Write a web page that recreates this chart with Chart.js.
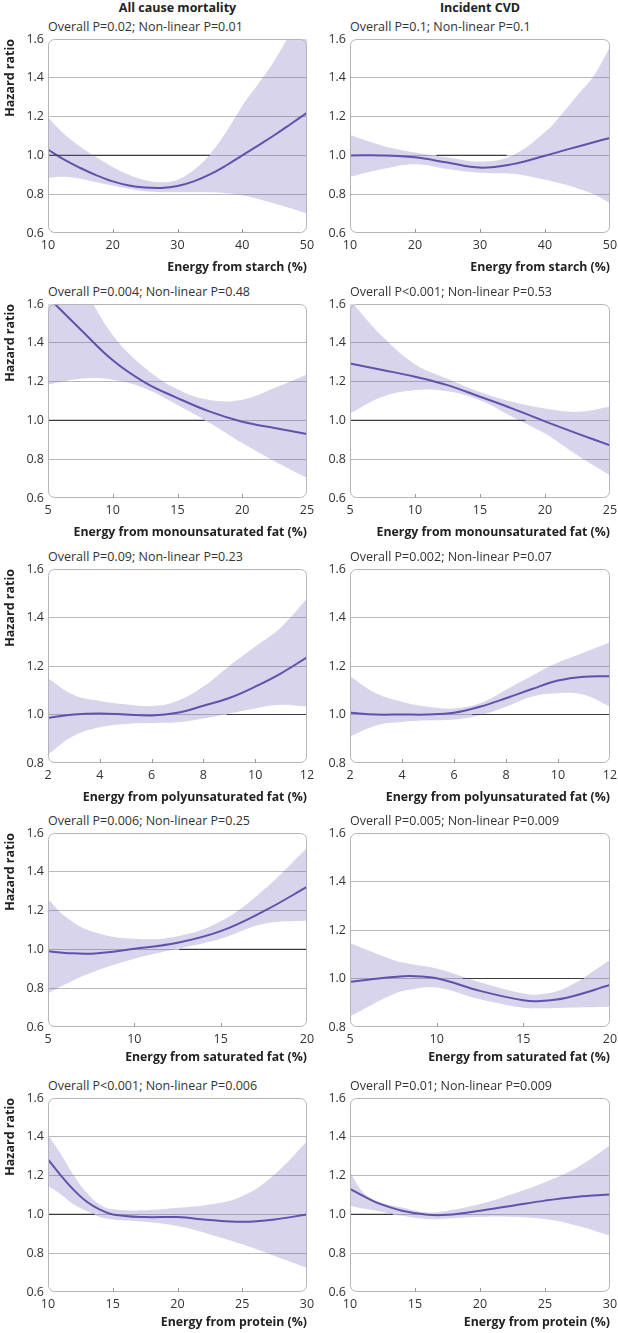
<!DOCTYPE html>
<html>
<head>
<meta charset="utf-8">
<script src="https://cdn.jsdelivr.net/npm/chart.js@4.4.1/dist/chart.umd.min.js"></script>
<style>
    body { margin: 0; background: #fff; width: 618px; height: 1333px; position: relative; overflow: hidden; font-family: 'Open Sans', sans-serif; color: #333; }
    .panel { position: absolute; }
    .coltitle { position: absolute; top: 0; font-weight: bold; font-size: 12.5px; line-height: 16px; color: #222; transform: translateX(-50%); white-space: nowrap; }
    .sub { position: absolute; font-size: 12.5px; line-height: 16px; white-space: nowrap; color: #333; }
</style>
</head>
<body>
<script>
// ── Data ──
var colTitles = ['All cause mortality', 'Incident CVD'];
var xTitles = ['Energy from starch (%)', 'Energy from monounsaturated fat (%)', 'Energy from polyunsaturated fat (%)', 'Energy from saturated fat (%)', 'Energy from protein (%)'];
var subtitles = [
    'Overall P=0.02; Non-linear P=0.01', 'Overall P=0.1; Non-linear P=0.1',
    'Overall P=0.004; Non-linear P=0.48', 'Overall P<0.001; Non-linear P=0.53',
    'Overall P=0.09; Non-linear P=0.23', 'Overall P=0.002; Non-linear P=0.07',
    'Overall P=0.006; Non-linear P=0.25', 'Overall P=0.005; Non-linear P=0.009',
    'Overall P<0.001; Non-linear P=0.006', 'Overall P=0.01; Non-linear P=0.009'
];
var xMin = [10, 5, 2, 5, 10];
var xMax = [50, 25, 12, 20, 30];
var xStep = [10, 5, 2, 5, 5];
var yMin = [0.6, 0.6, 0.6, 0.6, 0.8, 0.8, 0.6, 0.8, 0.6, 0.6];
var yMax = 1.6;
var yStep = 0.2;
// dark part of the HR=1 reference line
var refStart = [10, 23.3, 5, 5, 8.9, 6.7, 12.6, 11.5, 10, 10];
var refEnd = [35, 34.1, 17.1, 18.5, 12, 12, 20, 18.5, 13.6, 13.3];

// starch
var mortStarchX = [10, 12.5, 15, 17.5, 20, 22.5, 25, 27.5, 30, 32.5, 35, 37.5, 40, 42.5, 45, 47.5, 50];
var mortStarchHR = [1.03, 0.978, 0.935, 0.897, 0.866, 0.845, 0.834, 0.832, 0.842, 0.866, 0.902, 0.948, 1.0, 1.052, 1.105, 1.162, 1.22];
var mortStarchHi = [1.195, 1.11, 1.045, 0.99, 0.94, 0.9, 0.872, 0.862, 0.875, 0.925, 1.005, 1.12, 1.255, 1.37, 1.49, 1.64, 1.82];
var mortStarchLo = [0.885, 0.89, 0.88, 0.862, 0.845, 0.828, 0.815, 0.81, 0.81, 0.81, 0.81, 0.805, 0.795, 0.775, 0.752, 0.727, 0.70];
var cvdStarchX = [10, 15, 20, 25, 30, 35, 40, 42.5, 45, 47.5, 50];
var cvdStarchHR = [1.0, 1.0, 0.99, 0.963, 0.937, 0.955, 0.998, 1.022, 1.045, 1.068, 1.09];
var cvdStarchHi = [1.105, 1.05, 1.015, 0.99, 0.968, 1.0, 1.12, 1.21, 1.31, 1.41, 1.56];
var cvdStarchLo = [0.89, 0.93, 0.955, 0.93, 0.91, 0.905, 0.875, 0.855, 0.83, 0.8, 0.755];
// monounsaturated fat
var mortMufaX = [5, 7.5, 10, 12.5, 15, 17.5, 20, 22.5, 25];
var mortMufaHR = [1.635, 1.47, 1.31, 1.195, 1.115, 1.045, 0.993, 0.961, 0.93];
var mortMufaHi = [2.0, 1.72, 1.44, 1.27, 1.16, 1.105, 1.107, 1.167, 1.236];
var mortMufaLo = [1.185, 1.215, 1.21, 1.165, 1.08, 0.987, 0.883, 0.789, 0.703];
var cvdMufaX = [5, 7.5, 10, 12.5, 15, 17.5, 20, 22.5, 25];
var cvdMufaHR = [1.294, 1.26, 1.225, 1.182, 1.122, 1.061, 0.995, 0.932, 0.871];
var cvdMufaHi = [1.62, 1.432, 1.29, 1.215, 1.147, 1.096, 1.061, 1.044, 1.07];
var cvdMufaLo = [1.035, 1.122, 1.156, 1.15, 1.104, 1.018, 0.932, 0.82, 0.716];
// polyunsaturated fat
var mortPufaX = [2, 3, 4, 5, 6, 7, 8, 9, 10, 11, 12];
var mortPufaHR = [0.986, 1.0, 1.004, 1.0, 0.996, 1.007, 1.036, 1.068, 1.115, 1.17, 1.236];
var mortPufaHi = [1.15, 1.08, 1.056, 1.042, 1.035, 1.056, 1.115, 1.2, 1.28, 1.36, 1.478];
var mortPufaLo = [0.835, 0.912, 0.947, 0.961, 0.965, 0.968, 0.983, 1.004, 1.025, 1.04, 1.033];
var cvdPufaX = [2, 3, 4, 5, 6, 7, 8, 9, 10, 11, 12];
var cvdPufaHR = [1.007, 1.0, 1.0, 1.0, 1.007, 1.032, 1.067, 1.105, 1.14, 1.156, 1.158];
var cvdPufaHi = [1.158, 1.088, 1.053, 1.032, 1.025, 1.046, 1.102, 1.16, 1.214, 1.256, 1.298];
var cvdPufaLo = [0.909, 0.955, 0.969, 0.976, 0.979, 0.997, 1.032, 1.074, 1.088, 1.081, 1.032];
// saturated fat
var mortSfaX = [5, 6, 7.5, 10, 12.5, 15, 17.5, 20];
var mortSfaHR = [0.99, 0.982, 0.978, 1.003, 1.034, 1.094, 1.197, 1.322];
var mortSfaHi = [1.26, 1.17, 1.094, 1.055, 1.068, 1.145, 1.308, 1.523];
var mortSfaLo = [0.773, 0.82, 0.88, 0.952, 1.003, 1.055, 1.132, 1.149];
var cvdSfaX = [5, 7.5, 8.5, 10, 12.5, 15, 16, 17.5, 20];
var cvdSfaHR = [0.987, 1.006, 1.01, 1.001, 0.949, 0.91, 0.907, 0.921, 0.973];
var cvdSfaHi = [1.146, 1.076, 1.06, 1.041, 0.985, 0.938, 0.935, 0.963, 1.076];
var cvdSfaLo = [0.844, 0.935, 0.955, 0.963, 0.914, 0.879, 0.877, 0.879, 0.883];
// protein
var mortProtX = [10, 11, 12, 13, 14, 15, 17.5, 20, 22.5, 25, 27.5, 30];
var mortProtHR = [1.283, 1.2, 1.125, 1.065, 1.025, 1.0, 0.986, 0.986, 0.971, 0.962, 0.974, 1.0];
var mortProtHi = [1.41, 1.31, 1.2, 1.111, 1.051, 1.026, 1.022, 1.034, 1.051, 1.094, 1.206, 1.377];
var mortProtLo = [1.146, 1.103, 1.051, 1.017, 0.986, 0.974, 0.962, 0.94, 0.897, 0.846, 0.786, 0.725];
var cvdProtX = [10, 11, 12, 14, 16, 17.5, 20, 22.5, 25, 27.5, 30];
var cvdProtHR = [1.131, 1.096, 1.062, 1.019, 0.998, 0.998, 1.019, 1.045, 1.071, 1.091, 1.102];
var cvdProtHi = [1.217, 1.114, 1.071, 1.036, 1.01, 1.019, 1.053, 1.105, 1.166, 1.243, 1.355];
var cvdProtLo = [1.045, 1.03, 1.019, 0.993, 0.976, 0.979, 0.988, 0.988, 0.976, 0.941, 0.89];

var panels = [
    [mortStarchX, mortStarchHR, mortStarchHi, mortStarchLo], [cvdStarchX, cvdStarchHR, cvdStarchHi, cvdStarchLo],
    [mortMufaX, mortMufaHR, mortMufaHi, mortMufaLo], [cvdMufaX, cvdMufaHR, cvdMufaHi, cvdMufaLo],
    [mortPufaX, mortPufaHR, mortPufaHi, mortPufaLo], [cvdPufaX, cvdPufaHR, cvdPufaHi, cvdPufaLo],
    [mortSfaX, mortSfaHR, mortSfaHi, mortSfaLo], [cvdSfaX, cvdSfaHR, cvdSfaHi, cvdSfaLo],
    [mortProtX, mortProtHR, mortProtHi, mortProtLo], [cvdProtX, cvdProtHR, cvdProtHi, cvdProtLo]
];

// ── Layout ──
var colLeft = [0, 305];
var canvasW = [318, 313];
var plotLeft = [48, 350];
var plotRight = [307, 610];
var plotTop = [39, 304, 569, 833, 1098];
var plotH = 194;
var padTop = 10;
var xAxisH = [44, 44, 44, 40, 40];

var lineColor = '#5b4ea6';
var bandColor = 'rgba(110, 96, 186, 0.27)';
var gridColor = '#b8b8b8';

Chart.defaults.font.family = "'Open Sans', sans-serif";
Chart.defaults.color = '#333';

function pts(xs, ys) {
    return xs.map(function(x, i) { return { x: x, y: ys[i] }; });
}

// rounded plot frame + small inward ticks on the x axis
var framePlugin = {
    id: 'frame',
    afterDraw: function(chart) {
        var a = chart.chartArea, ctx = chart.ctx, xs = chart.scales.x;
        ctx.save();
        ctx.strokeStyle = '#b4b4b4';
        ctx.lineWidth = 1;
        ctx.beginPath();
        ctx.roundRect(a.left + 0.5, a.top + 0.5, a.right - a.left - 1, a.bottom - a.top - 1, 6);
        ctx.stroke();
        ctx.strokeStyle = '#9a9a9a';
        xs.ticks.forEach(function(t, i) {
            if (i === 0 || i === xs.ticks.length - 1) return;
            var px = Math.round(xs.getPixelForValue(t.value)) + 0.5;
            ctx.beginPath();
            ctx.moveTo(px, a.bottom);
            ctx.lineTo(px, a.bottom - 4);
            ctx.stroke();
        });
        ctx.restore();
    }
};

colTitles.forEach(function(t, c) {
    var d = document.createElement('div');
    d.className = 'coltitle';
    d.style.left = ((plotLeft[c] + plotRight[c]) / 2) + 'px';
    d.textContent = t;
    document.body.appendChild(d);
});

panels.forEach(function(p, k) {
    var r = Math.floor(k / 2), c = k % 2;
    var w = canvasW[c], h = padTop + plotH + xAxisH[r] + 2;

    var sub = document.createElement('div');
    sub.className = 'sub';
    sub.style.left = plotLeft[c] + 'px';
    sub.style.top = (plotTop[r] - 20) + 'px';
    sub.textContent = subtitles[k];
    document.body.appendChild(sub);

    var box = document.createElement('div');
    box.className = 'panel';
    box.style.left = colLeft[c] + 'px';
    box.style.top = (plotTop[r] - padTop) + 'px';
    var cv = document.createElement('canvas');
    cv.width = w; cv.height = h;
    cv.style.width = w + 'px'; cv.style.height = h + 'px';
    box.appendChild(cv);
    document.body.appendChild(box);

    var lo = yMin[k];
    new Chart(cv.getContext('2d'), {
        type: 'line',
        data: {
            datasets: [
                { data: pts(p[0], p[3]), borderWidth: 0, pointRadius: 0, fill: false, tension: 0.4 },
                { data: pts(p[0], p[2]), borderWidth: 0, pointRadius: 0, fill: '-1', backgroundColor: bandColor, tension: 0.4 },
                { data: [{ x: refStart[k], y: 1 }, { x: refEnd[k], y: 1 }], borderColor: '#3a3a3a', borderWidth: 1.2, pointRadius: 0, fill: false },
                { data: pts(p[0], p[1]), borderColor: lineColor, borderWidth: 2, pointRadius: 0, fill: false, tension: 0.4 }
            ]
        },
        options: {
            responsive: false, animation: false, devicePixelRatio: 1,
            layout: { padding: { left: 0, right: w - (plotRight[c] - colLeft[c]), top: padTop, bottom: 2 } },
            plugins: { legend: { display: false }, tooltip: { enabled: false } },
            scales: {
                x: {
                    type: 'linear', min: xMin[r], max: xMax[r],
                    grid: { display: false }, border: { display: false },
                    ticks: { stepSize: xStep[r], padding: -3, font: { size: 12.5 }, maxRotation: 0, callback: function(v) { return v; } },
                    title: { display: true, text: xTitles[r], align: 'end', color: '#222', font: { size: 12.3, weight: 'bold' }, padding: { top: 0, bottom: 2 } },
                    afterFit: function(s) { s.height = xAxisH[r]; s.paddingLeft = 0; s.paddingRight = 0; }
                },
                y: {
                    min: lo, max: yMax,
                    border: { display: false },
                    grid: {
                        drawTicks: false,
                        color: function(ctx) {
                            var v = ctx.tick ? ctx.tick.value : 0;
                            return (Math.abs(v - lo) < 1e-6 || Math.abs(v - yMax) < 1e-6) ? 'rgba(0,0,0,0)' : gridColor;
                        }
                    },
                    ticks: { stepSize: yStep, padding: 4, font: { size: 12.5 }, callback: function(v) { return Number(v).toFixed(1); } },
                    title: { display: c === 0, text: 'Hazard ratio', align: 'end', color: '#222', font: { size: 12.5, weight: 'bold' }, padding: { top: 3, bottom: 0 } },
                    afterFit: function(s) { s.width = plotLeft[c] - colLeft[c]; s.paddingTop = 0; s.paddingBottom = 0; }
                }
            }
        },
        plugins: [framePlugin]
    });
});
</script>
</body>
</html>
